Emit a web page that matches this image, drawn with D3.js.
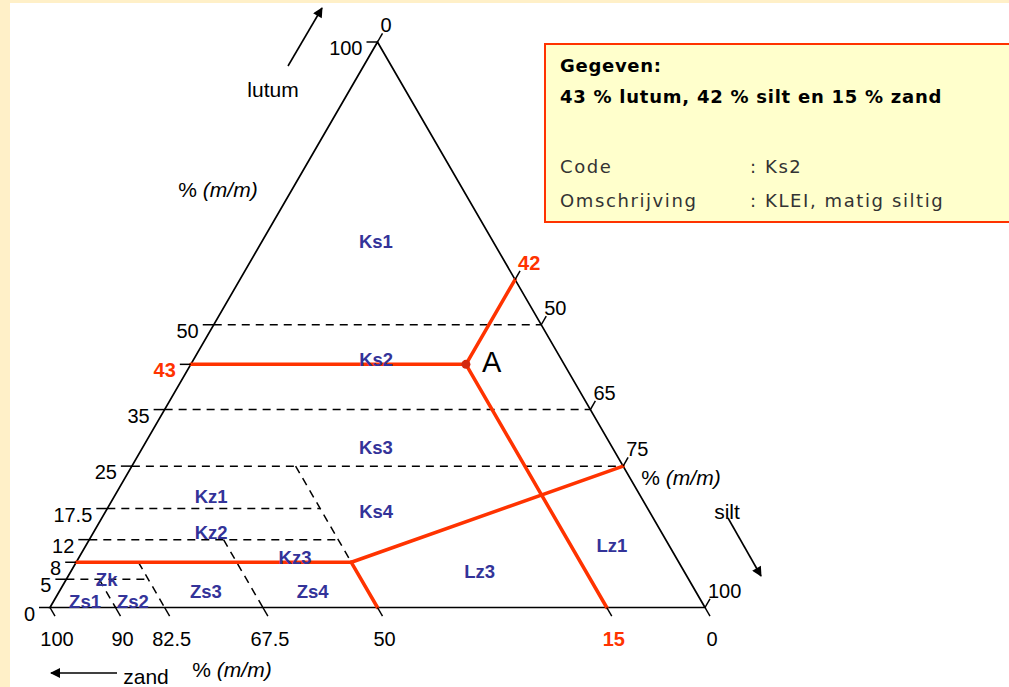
<!DOCTYPE html>
<html>
<head>
<meta charset="utf-8">
<script src="https://cdn.jsdelivr.net/npm/d3@7"></script>
<style>
    body { margin: 0; background: #fff0c8; }
    svg { display: block; }
</style>
</head>
<body>
<div id="chart"></div>
<script>
//  Given soil sample
const givenLutum = 43;
const givenSilt = 42;
const givenZand = 15;

//  Tick values on each side of the triangle
const lutumTicks = [100, 50, 43, 35, 25, 17.5, 12, 8, 5, 0];
const siltTicks = [0, 42, 50, 65, 75, 100];
const zandTicks = [100, 90, 82.5, 67.5, 50, 15, 0];

//  Class boundaries, each as [lutum, zand] start and end
const dashedFrom = [[50, 50], [35, 65], [25, 75], [17.5, 82.5], [12, 88], [5, 95], [25, 50], [12, 67.5], [8, 82.5], [5, 90]];
const dashedTo = [[50, 0], [35, 0], [25, 0], [17.5, 50], [12, 50], [5, 82.5], [8, 50], [0, 67.5], [0, 82.5], [0, 90]];
const redFrom = [[8, 92], [8, 50], [8, 50], [43, 57], [43, 15], [43, 15]];
const redTo = [[8, 50], [0, 50], [25, 0], [43, 15], [58, 0], [0, 15]];

//  Class codes and where they sit, as lutum / zand
const regionNames = ['Ks1', 'Ks2', 'Ks3', 'Ks4', 'Kz1', 'Kz2', 'Kz3', 'Zk', 'Zs1', 'Zs2', 'Zs3', 'Zs4', 'Lz3', 'Lz1'];
const regionLutum = [64.7, 43.8, 28.3, 17.0, 19.6, 13.2, 8.8, 4.9, 1.1, 1.1, 2.8, 2.8, 6.4, 11.0];
const regionZand = [17.9, 28.3, 36.1, 41.7, 65.6, 68.8, 58.2, 88.9, 94.1, 86.8, 74.8, 58.5, 31.2, 8.7];

//  Info box lines
const infoKeys = ['Code', 'Omschrijving'];
const infoValues = [': Ks2', ': KLEI, matig siltig'];

const width = 1009, height = 687;
const red = '#ff3300', blue = '#333399';
const numFont = '"Liberation Sans", Arial, sans-serif';
const boxFont = '"DejaVu Sans", Verdana, sans-serif';

const svg = d3.select('#chart').append('svg')
    .attr('width', width)
    .attr('height', height);

svg.append('rect').attr('x', 10).attr('y', 3)
    .attr('width', width - 10).attr('height', height - 3)
    .attr('fill', '#ffffff');

//  Ternary scales: x runs along the base (silt + half lutum), y follows lutum
const xScale = d3.scaleLinear().domain([0, 100]).range([50, 705]);
const yScale = d3.scaleLinear().domain([0, 100]).range([607.5, 42]);
const px = (l, z) => xScale(100 - l - z + l / 2);
const py = (l) => yScale(l);

const defs = svg.append('defs');
defs.append('marker').attr('id', 'arrow')
    .attr('viewBox', '0 0 10 10').attr('refX', 9).attr('refY', 5)
    .attr('markerWidth', 13).attr('markerHeight', 10)
    .attr('markerUnits', 'userSpaceOnUse')
    .attr('orient', 'auto')
    .append('path').attr('d', 'M0,0 L10,5 L0,10 Z').attr('fill', '#000');

const g = svg.append('g');

//  dashed class boundaries
g.selectAll('.dash').data(dashedFrom).enter().append('line')
    .attr('class', 'dash')
    .attr('x1', d => px(d[0], d[1])).attr('y1', d => py(d[0]))
    .attr('x2', (d, i) => px(dashedTo[i][0], dashedTo[i][1])).attr('y2', (d, i) => py(dashedTo[i][0]))
    .attr('stroke', '#000').attr('stroke-width', 1.5)
    .attr('stroke-dasharray', '8,6');

//  triangle outline
const corners = [[100, 0], [0, 100], [0, 0]];
g.append('path')
    .datum(corners)
    .attr('d', d3.line().x(d => px(d[0], d[1])).y(d => py(d[0])).curve(d3.curveLinearClosed))
    .attr('fill', 'none').attr('stroke', '#000').attr('stroke-width', 1.7);

//  red lines for the given sample
g.selectAll('.red').data(redFrom).enter().append('line')
    .attr('class', 'red')
    .attr('x1', d => px(d[0], d[1])).attr('y1', d => py(d[0]))
    .attr('x2', (d, i) => px(redTo[i][0], redTo[i][1])).attr('y2', (d, i) => py(redTo[i][0]))
    .attr('stroke', red).attr('stroke-width', 3.5).attr('stroke-linecap', 'round');

//  lutum ticks (left side)
const lutumG = g.selectAll('.lt').data(lutumTicks).enter().append('g');
lutumG.append('line')
    .attr('x1', d => px(d, 100 - d)).attr('x2', d => px(d, 100 - d) - 11)
    .attr('y1', d => py(d)).attr('y2', d => py(d))
    .attr('stroke', '#000').attr('stroke-width', 1.5);
lutumG.append('text')
    .attr('x', d => px(d, 100 - d) - 15).attr('y', d => py(d) + 13)
    .attr('text-anchor', 'end')
    .style('font-family', numFont).style('font-size', '20px')
    .style('font-weight', d => d === givenLutum ? 'bold' : 'normal')
    .attr('fill', d => d === givenLutum ? red : '#000')
    .text(d => d);

//  silt ticks (right side)
const siltG = g.selectAll('.st').data(siltTicks).enter().append('g');
siltG.append('line')
    .attr('x1', d => px(100 - d, 0)).attr('x2', d => px(100 - d, 0) + 5)
    .attr('y1', d => py(100 - d)).attr('y2', d => py(100 - d) - 8.7)
    .attr('stroke', '#000').attr('stroke-width', 1.5);
siltG.append('text')
    .attr('x', d => px(100 - d, 0) + 3).attr('y', d => py(100 - d) - 10)
    .style('font-family', numFont).style('font-size', '20px')
    .style('font-weight', d => d === givenSilt ? 'bold' : 'normal')
    .attr('fill', d => d === givenSilt ? red : '#000')
    .text(d => d);

//  zand ticks (base)
const zandG = g.selectAll('.zt').data(zandTicks).enter().append('g');
zandG.append('line')
    .attr('x1', d => px(0, d)).attr('x2', d => px(0, d) + 5)
    .attr('y1', py(0)).attr('y2', py(0) + 8.7)
    .attr('stroke', '#000').attr('stroke-width', 1.5);
zandG.append('text')
    .attr('x', d => px(0, d) + 7).attr('y', py(0) + 38)
    .attr('text-anchor', 'middle')
    .style('font-family', numFont).style('font-size', '20px')
    .style('font-weight', d => d === givenZand ? 'bold' : 'normal')
    .attr('fill', d => d === givenZand ? red : '#000')
    .text(d => d);

//  class codes
g.selectAll('.region').data(regionNames).enter().append('text')
    .attr('x', (d, i) => px(regionLutum[i], regionZand[i]))
    .attr('y', (d, i) => py(regionLutum[i]) + 6.5)
    .attr('text-anchor', 'middle')
    .style('font-family', numFont).style('font-size', '18.5px').style('font-weight', 'bold')
    .attr('fill', blue)
    .text(d => d);

//  point A
g.append('circle')
    .attr('cx', px(givenLutum, givenZand)).attr('cy', py(givenLutum))
    .attr('r', 4.5).attr('fill', '#d42a10');
g.append('text')
    .attr('x', px(givenLutum, givenZand) + 16).attr('y', py(givenLutum) + 8)
    .style('font-family', numFont).style('font-size', '29px')
    .text('A');

//  axis titles with arrows
const axisTitles = [
    { name: 'lutum', x: 273, y: 97, unitX: 218, unitY: 197, arrow: [288, 66, 322, 8] },
    { name: 'silt', x: 727, y: 519, unitX: 681, unitY: 485, arrow: [728, 518, 761, 576] },
    { name: 'zand', x: 146, y: 684, unitX: 232, unitY: 677, arrow: [117, 673, 51, 673] }
];
axisTitles.forEach(t => {
    g.append('text').attr('x', t.x).attr('y', t.y).attr('text-anchor', 'middle')
        .style('font-family', numFont).style('font-size', '21px').text(t.name);
    const unit = g.append('text').attr('x', t.unitX).attr('y', t.unitY).attr('text-anchor', 'middle')
        .style('font-family', numFont).style('font-size', '21px');
    unit.append('tspan').text('% ');
    unit.append('tspan').style('font-style', 'italic').text('(m/m)');
    g.append('line')
        .attr('x1', t.arrow[0]).attr('y1', t.arrow[1]).attr('x2', t.arrow[2]).attr('y2', t.arrow[3])
        .attr('stroke', '#000').attr('stroke-width', 1.6)
        .attr('marker-end', 'url(#arrow)');
});

//  info box
const box = svg.append('g');
box.append('rect')
    .attr('x', 545).attr('y', 44).attr('width', 480).attr('height', 178)
    .attr('fill', '#ffffcc').attr('stroke', red).attr('stroke-width', 2);
box.append('text').attr('x', 560).attr('y', 72)
    .style('font-family', boxFont).style('font-size', '18px')
    .style('font-weight', 'bold').style('letter-spacing', '0.7px')
    .text('Gegeven:');
box.append('text').attr('x', 560).attr('y', 103)
    .style('font-family', boxFont).style('font-size', '18px')
    .style('font-weight', 'bold').style('letter-spacing', '0.75px')
    .text(givenLutum + ' % lutum, ' + givenSilt + ' % silt en ' + givenZand + ' % zand');
infoKeys.forEach((k, i) => {
    box.append('text').attr('x', 560).attr('y', 173 + i * 34)
        .style('font-family', boxFont).style('font-size', '18px')
        .style('letter-spacing', '1.6px').attr('fill', '#333')
        .text(k);
    box.append('text').attr('x', 750).attr('y', 173 + i * 34)
        .style('font-family', boxFont).style('font-size', '18px')
        .style('letter-spacing', '1.6px').attr('fill', '#333')
        .text(infoValues[i]);
});
</script>
</body>
</html>
